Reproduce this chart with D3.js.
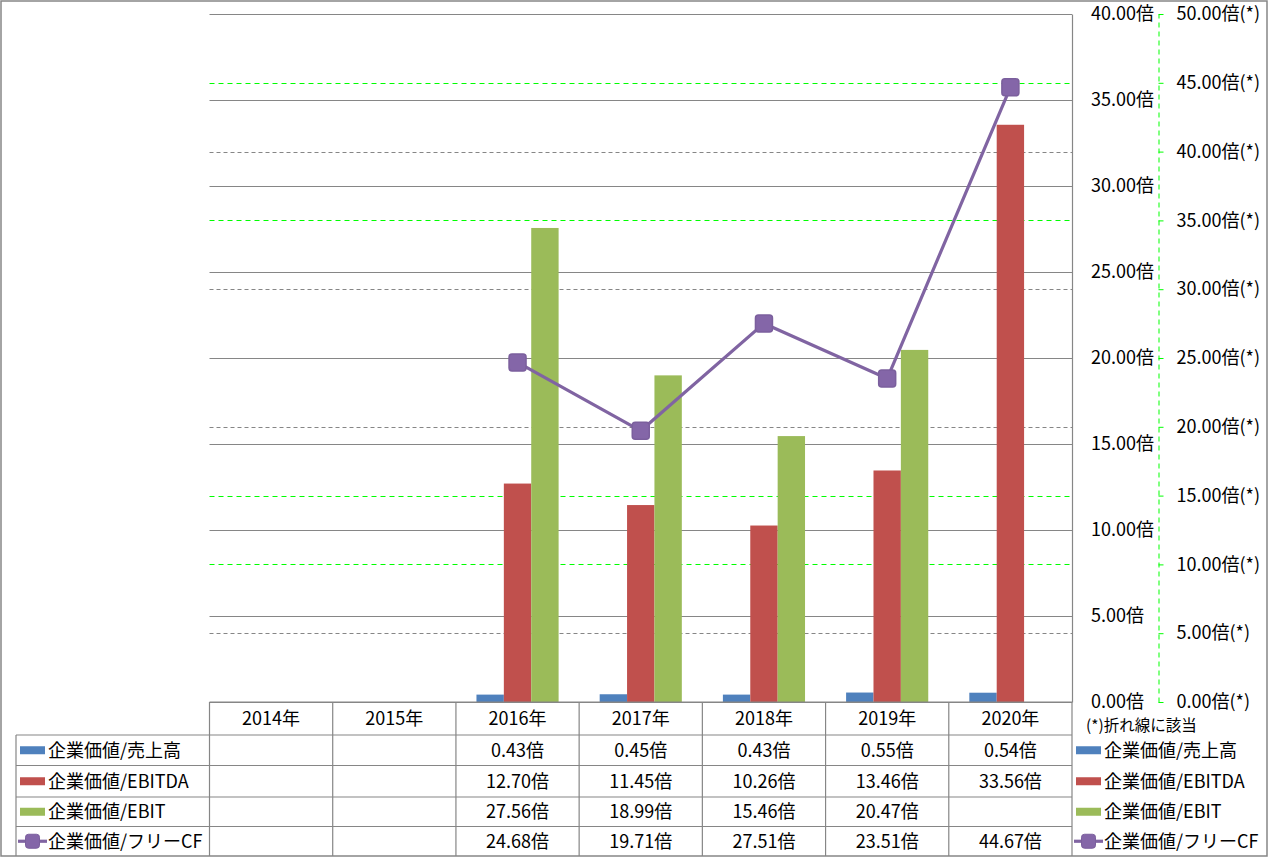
<!DOCTYPE html>
<html><head><meta charset="utf-8">
<script src="https://cdn.jsdelivr.net/npm/d3@7"></script>
<style>
html,body{margin:0;padding:0;background:#fff;}
svg text{font-family:"Noto Sans CJK JP","Noto Sans",sans-serif;fill:#000;}
</style></head>
<body>
<svg id="c" width="1269" height="858"></svg>
<script>
const categories = ["2014年","2015年","2016年","2017年","2018年","2019年","2020年"];
const sales  = [null,null,0.43,0.45,0.43,0.55,0.54];
const ebitda = [null,null,12.70,11.45,10.26,13.46,33.56];
const ebit   = [null,null,27.56,18.99,15.46,20.47,null];
const fcf    = [null,null,24.68,19.71,27.51,23.51,44.67];
const seriesNames = ["企業価値/売上高","企業価値/EBITDA","企業価値/EBIT","企業価値/フリーCF"];
const leftTicks  = [0,5,10,15,20,25,30,35,40];
const rightTicks = [0,5,10,15,20,25,30,35,40,45,50];
const greenGridTicks = [10,15,35,45];
const footNote = "(*)折れ線に該当";

const colors = ["#4F81BD","#C0504D","#9BBB59","#8064A2"];
const gridGray = "#868686";
const green = "#00FF00";
const FS = 18;

const svg = d3.select("#c");
const L = 209.5, R = 1072, T = 14, B = 702;

const x = d3.scaleBand().domain(categories).range([L, R]).padding(0);
const step = x.bandwidth();
const bw = step / 4.5;
const xs = d3.scaleBand().domain([0,1,2]).range([0, bw*3]);
const y1 = d3.scaleLinear().domain([0,40]).range([B, T]);
const y2 = d3.scaleLinear().domain([0,50]).range([B, T]);

// outer border
svg.append("rect").attr("x",1).attr("y",1).attr("width",1266).attr("height",855)
  .attr("fill","none").attr("stroke",gridGray).attr("stroke-width",1.5);

// secondary gridlines (dashed)
const sec = rightTicks.filter(v=>v>0 && v<50 && v!==25);
svg.append("g").selectAll("line").data(sec.filter(v=>!greenGridTicks.includes(v))).join("line")
  .attr("x1",L).attr("x2",R).attr("y1",d=>Math.round(y2(d))+0.5).attr("y2",d=>Math.round(y2(d))+0.5)
  .attr("stroke",gridGray).attr("stroke-dasharray","4,3").attr("stroke-width",1);
svg.append("g").selectAll("line").data(sec.filter(v=>greenGridTicks.includes(v))).join("line")
  .attr("x1",L).attr("x2",R).attr("y1",d=>Math.round(y2(d))+0.5).attr("y2",d=>Math.round(y2(d))+0.5)
  .attr("stroke",green).attr("stroke-dasharray","5,4").attr("stroke-width",1.2);

// primary gridlines (solid)
svg.append("g").selectAll("line").data(leftTicks).join("line")
  .attr("x1",L).attr("x2",R).attr("y1",d=>Math.round(y1(d))+0.5).attr("y2",d=>Math.round(y1(d))+0.5)
  .attr("stroke",gridGray).attr("stroke-width",1.2);

// bars
const barSeries = [sales, ebitda, ebit];
barSeries.forEach((s,si)=>{
  svg.append("g").selectAll("rect").data(categories.map((c,i)=>({c,v:s[i]})).filter(d=>d.v!=null)).join("rect")
    .attr("x",d=>x(d.c)+(step-bw*3)/2+xs(si))
    .attr("width",xs.bandwidth())
    .attr("y",d=>y1(d.v))
    .attr("height",d=>B-y1(d.v))
    .attr("fill",colors[si]);
});

// line
const pts = categories.map((c,i)=>({c,v:fcf[i]})).filter(d=>d.v!=null);
const lineGen = d3.line().x(d=>x(d.c)+step/2).y(d=>y2(d.v));
svg.append("path").datum(pts).attr("d",lineGen).attr("fill","none")
  .attr("stroke",colors[3]).attr("stroke-width",3.2).attr("stroke-linejoin","round");
svg.append("g").selectAll("rect").data(pts).join("rect")
  .attr("x",d=>x(d.c)+step/2-8.5).attr("y",d=>y2(d.v)-8.5)
  .attr("width",17).attr("height",17).attr("rx",3)
  .attr("fill","#8466A8").attr("stroke","#7B5F9D").attr("stroke-width",1.5);

// primary axis
const ax1 = svg.append("g").attr("transform",`translate(${R},0)`)
  .call(d3.axisRight(y1).tickValues(leftTicks).tickSize(0).tickPadding(19)
    .tickFormat(d=>d3.format(".2f")(d)+"倍"));
ax1.select(".domain").attr("stroke",gridGray).attr("stroke-width",1.2);
ax1.selectAll("text").attr("font-size",FS).attr("font-family",'"Noto Sans CJK JP",sans-serif').attr("fill","#000");

// secondary axis
const ax2 = svg.append("g").attr("transform",`translate(1158.5,0)`)
  .call(d3.axisRight(y2).tickValues(rightTicks).tickSize(5).tickSizeOuter(0).tickPadding(13)
    .tickFormat(d=>d3.format(".2f")(d)+"倍(*)"));
ax2.select(".domain").attr("stroke",green).attr("stroke-dasharray","5,4");
ax2.selectAll(".tick line").attr("stroke",green);
ax2.selectAll("text").attr("font-size",FS).attr("font-family",'"Noto Sans CJK JP",sans-serif').attr("fill","#000");

svg.append("text").attr("x",1086).attr("y",726).attr("dy","0.35em")
  .attr("font-size",15.5).text(footNote);

// data table
const rowY = [702, 735, 765.5, 797, 826.5, 856];
const tbl = svg.append("g").attr("stroke",gridGray).attr("stroke-width",1.2);
const colEdges = categories.map(c=>x(c)).concat([R]);
tbl.selectAll("line.v").data(colEdges).join("line").attr("class","v")
  .attr("x1",d=>d).attr("x2",d=>d).attr("y1",702).attr("y2",856);
tbl.append("line").attr("x1",16).attr("x2",16).attr("y1",735).attr("y2",856);
tbl.append("line").attr("x1",L).attr("x2",R).attr("y1",702).attr("y2",702);
rowY.slice(1,5).forEach(yy=>{
  tbl.append("line").attr("x1",16).attr("x2",R).attr("y1",yy).attr("y2",yy);
});

// header years
svg.append("g").selectAll("text").data(categories).join("text")
  .attr("x",d=>x(d)+step/2).attr("y",(rowY[0]+rowY[1])/2).attr("dy","0.35em")
  .attr("text-anchor","middle").attr("font-size",FS).text(d=>d);

const allSeries = [sales, ebitda, ebit, fcf];
allSeries.forEach((s,si)=>{
  const cy = (rowY[si+1]+rowY[si+2])/2;
  svg.append("g").selectAll("text").data(categories.map((c,i)=>({c,v:s[i]})).filter(d=>d.v!=null)).join("text")
    .attr("x",d=>x(d.c)+step/2).attr("y",cy).attr("dy","0.35em")
    .attr("text-anchor","middle").attr("font-size",FS)
    .text(d=>d3.format(".2f")(d.v)+"倍");
});

// legends (left in table, right outside)
function legend(x0, textX, cy, si){
  if(si<3){
    svg.append("rect").attr("x",x0).attr("y",cy-4).attr("width",25).attr("height",8).attr("fill",colors[si]);
  } else {
    svg.append("line").attr("x1",x0-2).attr("x2",x0+27).attr("y1",cy).attr("y2",cy)
      .attr("stroke",colors[3]).attr("stroke-width",3.2);
    svg.append("rect").attr("x",x0+12.5-7).attr("y",cy-7).attr("width",14).attr("height",14).attr("rx",3)
      .attr("fill","#8466A8").attr("stroke","#7B5F9D");
  }
  svg.append("text").attr("x",textX).attr("y",cy).attr("dy","0.35em").attr("font-size",FS).text(seriesNames[si]);
}
seriesNames.forEach((n,si)=>{
  const cy = (rowY[si+1]+rowY[si+2])/2;
  legend(20, 48, cy, si);
  legend(1076, 1104, cy, si);
});
</script>
</body></html>
